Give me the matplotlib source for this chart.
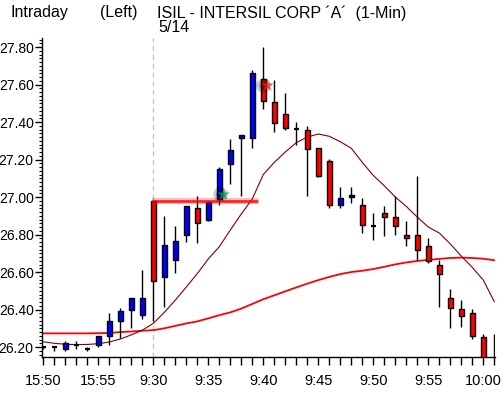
#intraday 1-min candlestick chart for ISIL, recreated with matplotlib

import numpy as np
import matplotlib.pyplot as plt
from matplotlib.ticker import MultipleLocator

#DATA
#bars are numbered by minute, 15:50..15:59 of the day before, then 9:30..10:01
tick_pos = [0, 5, 10, 15, 20, 25, 30, 35, 40]
tick_labels = ['15:50', '15:55', '9:30', '9:35', '9:40', '9:45', '9:50', '9:55', '10:00']

opens = [26.20, 26.20, 26.19, 26.21, 26.19, 26.21, 26.26, 26.34, 26.40, 26.37,
         26.98, 26.575, 26.665, 26.795, 26.94, 26.875, 26.99, 27.175, 27.315, 27.315,
         27.63, 27.505, 27.445, 27.365, 27.355, 27.26, 27.19, 26.955, 27.00, 26.96,
         26.845, 26.915, 26.895, 26.80, 26.80, 26.74, 26.64, 26.46, 26.405, 26.38,
         26.255, 26.14]
highs = [26.20, 26.20, 26.23, 26.23, 26.20, 26.26, 26.38, 26.41, 26.46, 26.61,
         26.98, 26.90, 26.845, 26.95, 27.005, 26.98, 27.16, 27.31, 27.33, 27.68,
         27.80, 27.625, 27.555, 27.40, 27.38, 27.26, 27.205, 27.055, 27.055, 26.995,
         26.915, 26.95, 27.005, 26.87, 27.11, 26.78, 26.665, 26.51, 26.45, 26.405,
         26.27, 26.27]
lows = [26.19, 26.18, 26.18, 26.19, 26.18, 26.20, 26.21, 26.25, 26.30, 26.35,
        26.34, 26.415, 26.595, 26.76, 26.755, 26.87, 26.96, 27.07, 27.005, 27.26,
        27.47, 27.345, 27.355, 27.28, 27.005, 27.105, 26.94, 26.94, 26.97, 26.81,
        26.77, 26.79, 26.80, 26.74, 26.665, 26.65, 26.415, 26.30, 26.305, 26.245,
        26.10, 26.08]
closes = [26.20, 26.20, 26.22, 26.21, 26.19, 26.26, 26.34, 26.39, 26.46, 26.46,
          26.55, 26.745, 26.765, 26.95, 26.86, 26.975, 27.15, 27.25, 27.33, 27.66,
          27.51, 27.395, 27.37, 27.365, 27.255, 27.11, 26.955, 26.995, 27.01, 26.85,
          26.845, 26.895, 26.845, 26.78, 26.715, 26.66, 26.59, 26.41, 26.365, 26.26,
          26.12, 26.10]

#short moving average (dark red) and long moving average (red)
ma_short = [26.228, 26.22, 26.215, 26.213, 26.214, 26.218, 26.227, 26.243, 26.265, 26.29,
            26.326, 26.385, 26.45, 26.52, 26.592, 26.67, 26.735, 26.824, 26.91, 26.99,
            27.12, 27.185, 27.24, 27.29, 27.32, 27.336, 27.324, 27.295, 27.26, 27.185,
            27.115, 27.06, 27.00, 26.95, 26.893, 26.84, 26.808, 26.75, 26.685, 26.625,
            26.557, 26.442]
ma_long = [26.273, 26.273, 26.273, 26.273, 26.273, 26.274, 26.275, 26.28, 26.283, 26.287,
           26.29, 26.30, 26.313, 26.326, 26.337, 26.353, 26.37, 26.385, 26.405, 26.43,
           26.455, 26.476, 26.497, 26.518, 26.538, 26.557, 26.574, 26.589, 26.60, 26.607,
           26.616, 26.628, 26.641, 26.651, 26.659, 26.665, 26.67, 26.675, 26.677, 26.675,
           26.671, 26.663]

#resistance line drawn from the 9:30 high, and the two signal marks
level_price = 26.98
level_start = 9.9
level_end = 19.5
signal_x = [16.35, 20.3]
signal_y = [27.016, 27.60]
signal_colors = ['#00a050', '#ff2020']

#FIGURE
plt.rcParams['font.family'] = ['Liberation Sans', 'DejaVu Sans']
fig = plt.figure(figsize=(5.03, 3.93), dpi=100)
ax = fig.add_axes([0.0835, 0.0916, 0.9005, 0.8117])

x = np.arange(len(opens))
opens = np.array(opens)
closes = np.array(closes)

#session break at 9:30
ax.axvline(10, color='#c0c0c0', lw=0.9, ls=(0, (4, 3)), zorder=0)

#moving averages behind the candles
ax.plot(x, ma_long, color='#ff0000', lw=1.3, zorder=1)
ax.plot(x, ma_short, color='#800000', lw=0.8, zorder=1)

#wicks
ax.vlines(x, lows, highs, color='black', lw=1.0, zorder=2)

#bodies: blue up, red down, black dash if unchanged
up = closes > opens
down = closes < opens
flat = closes == opens
ax.bar(x[up], (closes - opens)[up], bottom=opens[up], width=0.45,
       color='#0000ff', edgecolor='black', lw=1.0, zorder=3)
ax.bar(x[down], (opens - closes)[down], bottom=closes[down], width=0.45,
       color='#ff0000', edgecolor='black', lw=1.0, zorder=3)
ax.hlines(opens[flat], x[flat] - 0.25, x[flat] + 0.25, color='black', lw=1.6, zorder=3)

#resistance line with a soft glow
ax.hlines(level_price, level_start, level_end, color='#ff0000', lw=4.5, alpha=0.25, zorder=4)
ax.hlines(level_price, level_start, level_end, color='#ff0000', lw=2.0, alpha=0.8, zorder=4)

#signal marks with a dark shadow
for sx, sy, sc in zip(signal_x, signal_y, signal_colors):
    ax.scatter(sx - 0.3, sy, s=110, color='black', alpha=0.2, lw=0, zorder=5)
    ax.scatter(sx - 0.3, sy, s=40, color='black', alpha=0.3, lw=0, zorder=5)
    ax.scatter(sx, sy, s=90, marker='*', color=sc, alpha=0.75, lw=0, zorder=6)

#axes
ax.set_xlim(-0.12, 41.06)
ax.set_ylim(26.147, 27.848)
ax.spines['top'].set_visible(False)
ax.spines['right'].set_visible(False)
ax.spines['left'].set_linewidth(1.0)
ax.spines['bottom'].set_linewidth(1.0)

ax.set_xticks(tick_pos)
ax.set_xticklabels(tick_labels)
ax.xaxis.set_minor_locator(MultipleLocator(1))
ax.tick_params(axis='x', which='both', direction='out', length=6, width=1.0,
               labelsize=10.5, pad=6, colors='black')

ax.yaxis.set_major_locator(MultipleLocator(0.2))
ax.yaxis.set_minor_locator(MultipleLocator(0.02))
ax.yaxis.set_major_formatter(plt.FuncFormatter(lambda v, p: '%.2f' % v))
ax.tick_params(axis='y', which='major', direction='out', length=5, width=1.0,
               labelsize=10, pad=1)
ax.tick_params(axis='y', which='minor', direction='out', length=2, width=0.8)

#header text
fig.text(10 / 503, 1 - 13 / 393, 'Intraday', fontsize=11.5, va='center', ha='left')
fig.text(100 / 503, 1 - 13 / 393, '(Left)', fontsize=11.5, va='center', ha='left')
fig.text(157 / 503, 1 - 13 / 393, 'ISIL - INTERSIL CORP \u00b4A\u00b4  (1-Min)',
         fontsize=11.5, va='center', ha='left')
fig.text(158 / 503, 1 - 28 / 393, '5/14', fontsize=11.5, va='center', ha='left')

fig.savefig('out.png', dpi=100)
